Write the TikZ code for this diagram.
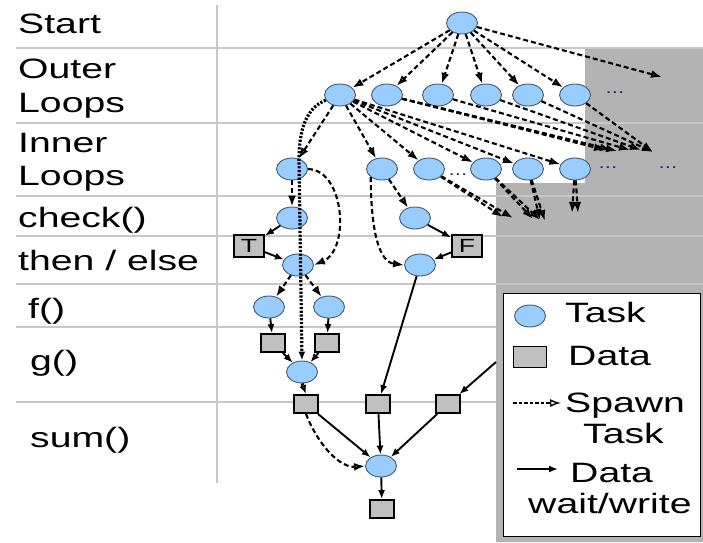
\documentclass[tikz,border=0pt]{standalone}
\usepackage{fontspec}
\setmainfont{Liberation Sans}
\newfontfamily\widesans[FakeStretch=1.4]{Liberation Sans}
\usetikzlibrary{arrows.meta,shapes.geometric}

\definecolor{taskblue}{RGB}{153,204,255}
\definecolor{taskedge}{RGB}{70,90,110}
\definecolor{datagrey}{RGB}{192,192,192}
\definecolor{rowline}{RGB}{200,200,200}
\definecolor{greyzone}{RGB}{179,179,179}
\definecolor{dotcol}{RGB}{30,40,90}

\begin{document}
\begin{tikzpicture}[x=1pt,y=-1pt,
  task/.style={ellipse,draw=taskedge,line width=0.9pt,fill=taskblue,
    minimum width=31pt,minimum height=22pt,inner sep=0pt},
  datum/.style={rectangle,draw=black,line width=1.8pt,fill=datagrey,
    minimum width=24pt,minimum height=18pt,inner sep=0pt},
  flag/.style={datum,minimum width=30pt,minimum height=22pt,
    font=\widesans\fontsize{19}{19}\selectfont},
  spawn/.style={line width=2.1pt,dash pattern=on 5pt off 3pt,
    -{Latex[open,length=11pt,width=8pt]}},
  waitw/.style={line width=1.9pt,-{Latex[length=9pt,width=7pt]}},
  heavy/.style={line width=3.2pt,dash pattern=on 2.2pt off 1.6pt,
    -{Latex[open,length=9pt,width=7pt]}},
  row/.style={rowline,line width=2.4pt},
  lab/.style={anchor=base west,inner sep=0pt,
    font=\widesans\fontsize{28}{30}\selectfont},
  more/.style={inner sep=0pt,text=dotcol,
    font=\widesans\fontsize{16}{16}\selectfont}]

\useasboundingbox (0,0) rectangle (703,542);

% grey area for work outside the shown region
\fill[greyzone] (585,48) -- (703,48) -- (703,542) -- (496,542) -- (496,183)
  -- (585,183) -- cycle;

% row separators and label column
\foreach \yy in {48,123,196,236,284}
  \draw[row] (16,\yy) -- (703,\yy);
\foreach \yy in {327,402}
  \draw[row] (16,\yy) -- (496,\yy);
\draw[row] (217,5) -- (217,483);

% row labels
\node[lab] (lstart) at (18,33) {Start};
\node[lab] (louter) at (18,78) {Outer};
\node[lab] (loloops) at (18,112) {Loops};
\node[lab] (linner) at (18,152) {Inner};
\node[lab] (liloops) at (18,185) {Loops};
\node[lab] (lcheck) at (18,227) {check()};
\node[lab] (lthen) at (18,270) {then / else};
\node[lab] (lf) at (28,318) {f()};
\node[lab] (lg) at (30,370) {g()};
\node[lab] (lsum) at (30,447) {sum()};

% tasks
\node[task] (start) at (462,23) {};
\node[task] (o1) at (340,95) {};
\node[task] (o2) at (387,95) {};
\node[task] (o3) at (438,95) {};
\node[task] (o4) at (486,95) {};
\node[task] (o5) at (528,95) {};
\node[task] (o6) at (575,95) {};
\node[more] (odots) at (615,93) {...};

\node[task] (i1) at (292,169) {};
\node[task] (i2) at (382,169) {};
\node[task] (i3) at (429,169) {};
\node[task] (i4) at (486,169) {};
\node[task] (i5) at (528,169) {};
\node[task] (i6) at (575,169) {};
\node[more] (idots1) at (458,175) {...};
\node[more] (idots2) at (608,168) {...};
\node[more] (idots3) at (668,168) {...};

\node[task] (cl) at (292,218) {};
\node[task] (cr) at (415,218) {};
\node[flag] (tbox) at (249,246) {T};
\node[flag] (fbox) at (467,246) {F};
\node[task] (tl) at (298,265) {};
\node[task] (tr) at (420,265) {};

\node[task] (f1) at (269,307) {};
\node[task] (f2) at (329,307) {};
\node[datum] (d1) at (273,343) {};
\node[datum] (d2) at (327,343) {};
\node[task] (g) at (302,372) {};

\node[datum] (s1) at (306,404) {};
\node[datum] (s2) at (378,404) {};
\node[datum] (s3) at (448,404) {};
\node[task] (sum) at (381,466) {};
\node[datum] (res) at (382,509) {};

% off-region targets
\coordinate (far) at (662,77);
\coordinate (a1) at (605,150);
\coordinate (a2) at (611,150);
\coordinate (a3) at (617,151);
\coordinate (a4) at (630,150);
\coordinate (a5) at (641,150);
\coordinate (a6) at (653,152);
\coordinate (b1) at (503,217);
\coordinate (b2) at (513,218);
\coordinate (b3) at (533,219);
\coordinate (b4) at (540,220);
\coordinate (b5) at (545,221);
\coordinate (b6) at (572,213);
\coordinate (b7) at (578,213);
\coordinate (lin) at (496,362);

% spawn edges
\foreach \n in {o1,o2,o3,o4,o5,o6}
  \draw[spawn] (start) -- (\n);
\draw[spawn] (start) -- (far);
\foreach \n in {i1,i2,i3,i4,i5,i6}
  \draw[spawn] (o1) -- (\n);
\draw[spawn] (o2) -- (a1);
\draw[spawn] (o2) -- (a2);
\draw[spawn] (o2) -- (a3);
\draw[spawn] (o3) -- (a4);
\draw[spawn] (o4) -- (a5);
\draw[spawn] (o5) -- (a6);
\draw[spawn] (o6) -- (a6);
\draw[spawn] (i3) -- (b1);
\draw[spawn] (i3) -- (b2);
\draw[spawn] (i4) -- (b3);
\draw[spawn] (i4) -- (b4);
\draw[spawn] (i5) -- (b4);
\draw[spawn] (i5) -- (b5);
\draw[spawn] (i6) -- (b6);
\draw[spawn] (i6) -- (b7);

\draw[spawn] (i1) -- (cl);
\draw[spawn] (i1.east) .. controls (345,170) and (350,250) .. (tl.east);
\draw[spawn] (i2) -- (cr);
\draw[spawn] (i2.south west) .. controls (371,235) and (380,262) .. (tr.west);
\draw[spawn] (tl) -- (f1);
\draw[spawn] (tl) -- (f2);
\draw[spawn] (s1.south) .. controls (318,445) and (340,468) .. (sum.west);

% long-lived task chain
\draw[heavy] (o1.200) .. controls (306,108) and (299,130) .. (299,160) -- (g.north);
\draw[heavy] (g.south) -- (s1.north);

% data waits and writes
\draw[waitw] (cl) -- (tbox);
\draw[waitw] (tbox) -- (tl);
\draw[waitw] (cr) -- (fbox);
\draw[waitw] (fbox) -- (tr);
\draw[waitw] (f1) -- (d1);
\draw[waitw] (f2) -- (d2);
\draw[waitw] (d1) -- (g);
\draw[waitw] (d2) -- (g);
\draw[waitw] (tr) -- (s2);
\draw[waitw] (lin) -- (s3);
\draw[waitw] (s1) -- (sum);
\draw[waitw] (s2) -- (sum);
\draw[waitw] (s3) -- (sum);
\draw[waitw] (sum) -- (res);

% legend
\node[draw=black,line width=1.3pt,fill=white,anchor=north west,
  minimum width=197pt,minimum height=243pt,inner sep=0pt] (legend) at (503,293) {};
\node[task] (ktask) at (530,316) {};
\node[lab] (ktasktxt) at (565,322) {Task};
\node[datum,minimum width=33pt,minimum height=21pt] (kdata) at (530,357) {};
\node[lab] (kdatatxt) at (568,365) {Data};
\coordinate (ks0) at (513,403);
\coordinate (ks1) at (561,403);
\draw[spawn,line width=1.4pt,dash pattern=on 3.5pt off 2pt] (ks0) -- (ks1);
\node[lab] (kspawn) at (565,412) {Spawn};
\node[lab] (kspawn2) at (583,443) {Task};
\coordinate (kw0) at (517,469);
\coordinate (kw1) at (558,469);
\draw[waitw] (kw0) -- (kw1);
\node[lab] (kwait) at (570,482) {Data};
\node[lab] (kwait2) at (528,513) {wait/write};

\end{tikzpicture}
\end{document}
